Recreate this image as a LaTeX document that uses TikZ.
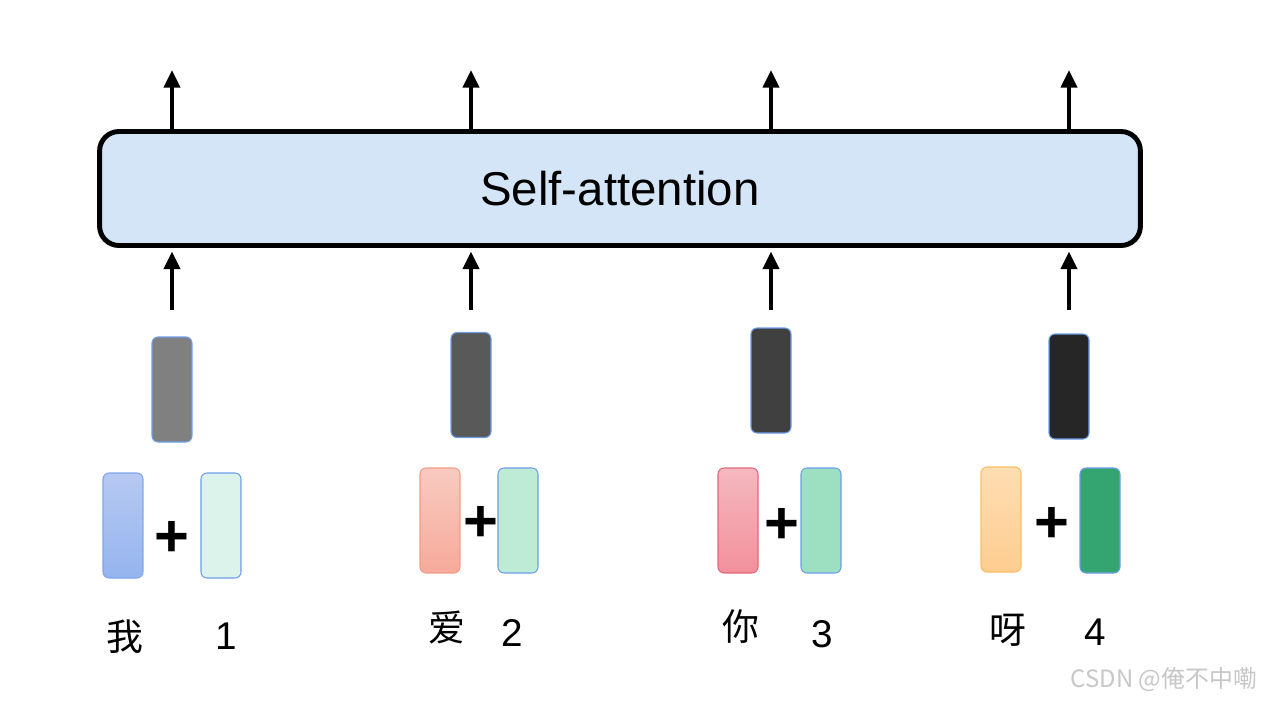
\documentclass[tikz,border=0pt]{standalone}
\usepackage{fontspec}
\setmainfont{Liberation Sans}
\newfontfamily\cjk{Noto Sans CJK SC}
\usetikzlibrary{arrows.meta}

\definecolor{saFill}{HTML}{D5E5F8}
\definecolor{vecEdge}{HTML}{6D9EEB}
\definecolor{outA}{HTML}{808080}
\definecolor{outB}{HTML}{595959}
\definecolor{outC}{HTML}{404040}
\definecolor{outD}{HTML}{262626}
% word vectors: top / bottom / edge
\definecolor{tokAt}{HTML}{B6C9F2}\definecolor{tokAb}{HTML}{95B4EF}\definecolor{tokAe}{HTML}{7FA6EC}
\definecolor{tokBt}{HTML}{F8CAC0}\definecolor{tokBb}{HTML}{F6AA9A}\definecolor{tokBe}{HTML}{F29C89}
\definecolor{tokCt}{HTML}{F5B8BF}\definecolor{tokCb}{HTML}{F2909C}\definecolor{tokCe}{HTML}{E3677A}
\definecolor{tokDt}{HTML}{FEDDB2}\definecolor{tokDb}{HTML}{FECD90}\definecolor{tokDe}{HTML}{FBBE62}
% position vectors
\definecolor{posA}{HTML}{DBF3EA}
\definecolor{posB}{HTML}{BDEBD6}
\definecolor{posC}{HTML}{9DDFC1}
\definecolor{posD}{HTML}{34A571}

\begin{document}
\begin{tikzpicture}[x=0.02cm, y=-0.02cm,
  up/.style={-{Triangle[length=10pt,width=9pt]}, line width=2.3pt},
  vec/.style={draw=vecEdge, line width=0.6pt, rounded corners=3.4pt,
    minimum width=0.8cm, minimum height=2.1cm, inner sep=0pt},
  plus/.style={font=\fontsize{34}{34}\selectfont\bfseries, inner sep=0pt},
  word/.style={font=\cjk\fontsize{21}{21}\selectfont, inner sep=0pt},
  num/.style={font=\fontsize{22}{22}\selectfont, inner sep=0pt}]
  \useasboundingbox (0,0) rectangle (1262,701);

  \node[draw, line width=2.8pt, rounded corners=11pt, fill=saFill,
    minimum width=20.82cm, minimum height=2.28cm,
    font=\fontsize{27}{27}\selectfont] (sa) at (620,188.5) {Self-attention};

  % output of each column (summed vector) and its arrows
  \foreach \n/\x/\y/\c in {1/172/389.5/outA, 2/471/385/outB,
                           3/771/380.5/outC, 4/1069/386.5/outD} {
    \node[vec, fill=\c] (sum\n) at (\x,\y) {};
    \coordinate (in\n) at (\x,310);
    \coordinate (out\n) at (\x,70);
    \draw[up, shorten >=2pt] (in\n) -- (sa.south -| in\n);
    \draw[up] (sa.north -| out\n) -- (out\n);
  }

  % word vector + position vector
  \foreach \n/\tx/\ty/\k/\px/\py/\p/\plx/\ply/\w/\wx/\wy/\nx/\ny in {
      1/123/525.5/A/221/525.5/posA/172/539/我/125/637/226/636,
      2/440/520.5/B/518/520.5/posB/481/524/爱/447/628/512/633,
      3/738/520.5/C/821/520.5/posC/782/526/你/741/627/822/634,
      4/1001/519.5/D/1100/520.5/posD/1052/525/呀/1008/630/1095/632} {
    \node[vec, draw=tok\k e, top color=tok\k t, bottom color=tok\k b]
      (tok\n) at (\tx,\ty) {};
    \node[vec, fill=\p] (pos\n) at (\px,\py) {};
    \node[plus] (plus\n) at (\plx,\ply) {+};
    \node[word] (w\n) at (\wx,\wy) {\w};
    \node[num] (p\n) at (\nx,\ny) {\n};
  }

  \node[font=\cjk\fontsize{13.6}{14}\selectfont, text=black!22, inner sep=0pt]
    (mark) at (1164,680) {CSDN @俺不中嘞};
\end{tikzpicture}
\end{document}
